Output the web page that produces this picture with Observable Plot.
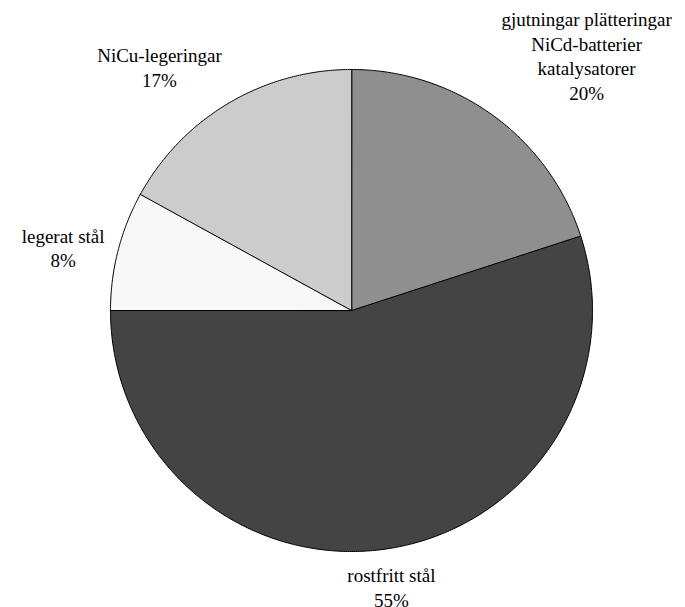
<!DOCTYPE html>
<html>
<head>
<meta charset="utf-8">
<script src="https://cdn.jsdelivr.net/npm/d3@7"></script>
<script src="https://cdn.jsdelivr.net/npm/@observablehq/plot@0.6"></script>
<style>
  body { margin: 0; background: #fff; }
</style>
</head>
<body>
<div id="chart"></div>
<script>
// Nickel use by application (share, %)
const categories = [
  "gjutningar plätteringar\nNiCd-batterier\nkatalysatorer",
  "rostfritt stål",
  "legerat stål",
  "NiCu-legeringar"
];
const shares = [20, 55, 8, 17];
const sliceColors = ["#8f8f8f", "#444444", "#f8f8f8", "#cccccc"];

const width = 685, height = 607;
const margin = {top: 69, right: 93, bottom: 56, left: 110};
const radiusPx = (width - margin.left - margin.right) / 2;
const fontSize = 19, lineHeight = 1.29;
const fontFamily = '"Liberation Serif", "Times New Roman", serif';

// Slices clockwise from twelve o'clock, in data order
const arcs = d3.pie().sort(null).value(d => d)(shares);

// Each slice as a closed polygon: centre, then points along its arc
const slicePoints = arcs.flatMap((a, i) => {
  const pts = [{name: categories[i], x: 0, y: 0}];
  const n = Math.max(2, Math.ceil((a.endAngle - a.startAngle) / (Math.PI / 360)));
  for (let k = 0; k <= n; k++) {
    const t = a.startAngle + (a.endAngle - a.startAngle) * k / n;
    pts.push({name: categories[i], x: Math.sin(t), y: Math.cos(t)});
  }
  return pts;
});

// Labels sit just outside the rim: the text box touches a point on the
// slice's mid angle, and is pushed away from the pie by its own size.
const ctx = document.createElement("canvas").getContext("2d");
ctx.font = `${fontSize}px ${fontFamily}`;
const labelRadius = 1.058;
const ramp = (v, lo, span) => Math.sign(v) * Math.min(1, Math.max(0, (Math.abs(v) - lo) / span));
const labels = arcs.map((a, i) => {
  const text = `${categories[i]}\n${shares[i]}%`;
  const lines = text.split("\n");
  const w = Math.max(...lines.map(l => ctx.measureText(l).width)) / radiusPx;
  const h = lines.length * fontSize * lineHeight / radiusPx;
  const mid = (a.startAngle + a.endAngle) / 2;
  const sx = Math.sin(mid), sy = Math.cos(mid);
  return {
    text,
    x: sx * labelRadius + ramp(sx, 0.2, 0.3) * w / 2,
    y: sy * labelRadius + ramp(sy, 0.3, 0.3) * h / 2
  };
});

const chart = Plot.plot({
  width, height,
  marginTop: margin.top, marginRight: margin.right,
  marginBottom: margin.bottom, marginLeft: margin.left,
  style: {fontFamily, background: "#fff"},
  x: {domain: [-1, 1], axis: null},
  y: {domain: [-1, 1], axis: null},
  color: {domain: categories, range: sliceColors},
  marks: [
    Plot.line(slicePoints, {
      x: "x", y: "y", z: "name", fill: "name",
      stroke: "black", strokeWidth: 1, curve: "linear-closed"
    }),
    Plot.text(labels, {
      x: "x", y: "y", text: "text",
      fontSize, lineHeight, fill: "black",
      textAnchor: "middle", lineAnchor: "middle"
    })
  ]
});
document.getElementById("chart").appendChild(chart);
</script>
</body>
</html>
